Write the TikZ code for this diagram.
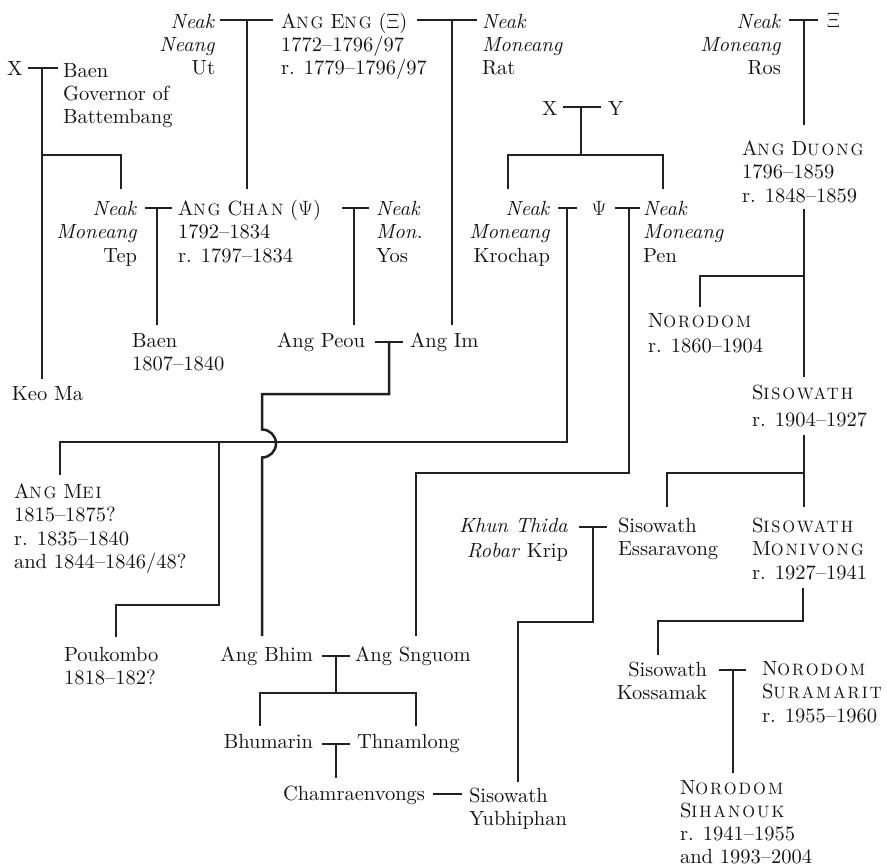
\documentclass[tikz,border=0pt]{standalone}
\usepackage{fontspec}
\setmainfont{lmroman10-regular.otf}[ItalicFont=lmroman10-italic.otf, BoldFont=lmroman10-bold.otf]
\newfontfamily\scletters{lmroman10-regular.otf}[LetterSpace=12]
\newcommand\fsc[2]{#1{\scletters\fontsize{16.5}{16.5}\selectfont #2}}
\usepackage{tikz}
\newcommand\tstrut{\rule{0pt}{16pt}}
\tikzset{
  txt/.style={inner sep=0pt, outer sep=0pt, text=black!92, font=\fontsize{20.5}{23.5}\selectfont},
  L/.style={txt, anchor=north west, align=left},
  R/.style={txt, anchor=north east, align=right},
  ln/.style={line width=2.5pt, line join=miter, line cap=butt, draw=black!87}
}
\begin{document}
\begin{tikzpicture}[x=1pt,y=-1pt]
\useasboundingbox (0,0) rectangle (887,867);
% ---------- people ----------
\node[R] (ut) at (215,12) {\tstrut\textit{Neak}\\\textit{Neang}\\Ut};
\node[L] (eng) at (281,12) {\tstrut\fsc{A}{NG} \fsc{E}{NG} ($\Xi$)\\1772--1796/97\\r. 1779--1796/97};
\node[L] (rat) at (482,12) {\tstrut\textit{Neak}\\\textit{Moneang}\\Rat};
\node[L] (xa) at (7,60) {\tstrut X};
\node[L] (baena) at (63,61) {\tstrut Baen\\Governor of\\Battembang};
\node[R] (tep) at (137,199) {\tstrut\textit{Neak}\\\textit{Moneang}\\Tep};
\node[L] (chan) at (178,199) {\tstrut\fsc{A}{NG} \fsc{C}{HAN} ($\Psi$)\\1792--1834\\r. 1797--1834};
\node[L] (yos) at (376,199) {\tstrut\textit{Neak}\\\textit{Mon.}\\Yos};
\node[L] (xb) at (542,99) {\tstrut X};
\node[L] (yb) at (608,99) {\tstrut Y};
\node[R] (krochap) at (550,199) {\tstrut\textit{Neak}\\\textit{Moneang}\\Krochap};
\node[txt, anchor=north] (psi) at (599,199) {\tstrut$\Psi$};
\node[L] (pen) at (643,199) {\tstrut\textit{Neak}\\\textit{Moneang}\\Pen};
\node[R] (ros) at (781,12) {\tstrut\textit{Neak}\\\textit{Moneang}\\Ros};
\node[L] (xi) at (827,12) {\tstrut$\Xi$};
\node[L] (duong) at (742,139) {\tstrut\fsc{A}{NG} \fsc{D}{UONG}\\1796--1859\\r. 1848--1859};
\node[L] (baenb) at (132,331) {\tstrut Baen\\1807--1840};
\node[R] (peou) at (365,331) {\tstrut Ang Peou};
\node[L] (im) at (410,331) {\tstrut Ang Im};
\node[L] (keoma) at (12,384) {\tstrut Keo Ma};
\node[L] (norodom) at (648,311) {\tstrut\fsc{N}{ORODOM}\\[1.5pt]r. 1860--1904};
\node[L] (sisowath) at (752,383) {\tstrut\fsc{S}{ISOWATH}\\[3.5pt]r. 1904--1927};
\node[L] (mei) at (14,482) {\tstrut\fsc{A}{NG} \fsc{M}{EI}\\1815--1875?\\r. 1835--1840\\and 1844--1846/48?};
\node[R] (khun) at (568,516) {\tstrut\textit{Khun Thida}\\[2pt]\textit{Robar} Krip};
\node[L] (essara) at (618,516) {\tstrut Sisowath\\Essaravong};
\node[L] (monivong) at (752,516) {\tstrut\fsc{S}{ISOWATH}\\\fsc{M}{ONIVONG}\\r. 1927--1941};
\node[L] (poukombo) at (64,645) {\tstrut Poukombo\\1818--182?};
\node[R] (bhim) at (313,645) {\tstrut Ang Bhim};
\node[L] (snguom) at (355,645) {\tstrut Ang Snguom};
\node[R] (kossamak) at (707,660) {\tstrut Sisowath\\Kossamak};
\node[L] (suramarit) at (762,659) {\tstrut\fsc{N}{ORODOM}\\\fsc{S}{URAMARIT}\\r. 1955--1960};
\node[R] (bhumarin) at (313,732) {\tstrut Bhumarin};
\node[L] (thnamlong) at (357,732) {\tstrut Thnamlong};
\node[R] (chamra) at (425,784) {\tstrut Chamraenvongs};
\node[L] (yubhi) at (469,786) {\tstrut Sisowath\\Yubhiphan};
\node[L, font=\fontsize{20.5}{23}\selectfont] (sihanouk) at (680,778) {\tstrut\fsc{N}{ORODOM}\\\fsc{S}{IHANOUK}\\r. 1941--1955\\and 1993--2004};
% ---------- junction points ----------
\coordinate (ueL) at (220,20); \coordinate (ueR) at (273,20); \coordinate (ueM) at (247,20); \coordinate (chanT) at (247,189);
\coordinate (erL) at (417,20); \coordinate (erR) at (477,20); \coordinate (erM) at (452,20); \coordinate (imT) at (452,325);
\coordinate (xbL) at (28,68); \coordinate (xbR) at (58,68); \coordinate (xbM) at (42,68); \coordinate (keoT) at (42,379);
\coordinate (xbJ) at (42,155); \coordinate (tepC) at (121,155); \coordinate (tepT) at (121,189);
\coordinate (tcL) at (145,208); \coordinate (tcR) at (172,208); \coordinate (tcM) at (157,208); \coordinate (baenT) at (157,325);
\coordinate (cyL) at (342,208); \coordinate (cyR) at (369,208); \coordinate (cyM) at (354,208); \coordinate (peouT) at (354,325);
\coordinate (xyL) at (563,107); \coordinate (xyR) at (601,107); \coordinate (xyM) at (581,107); \coordinate (xyJ) at (581,155);
\coordinate (kroC) at (508,155); \coordinate (kroT) at (508,189); \coordinate (penC) at (663,155); \coordinate (penT) at (663,189);
\coordinate (kpL) at (558,208); \coordinate (kpR) at (577,208); \coordinate (kpM) at (567,208); \coordinate (kpC) at (567,442);
\coordinate (meiC) at (60,442); \coordinate (meiT) at (60,475);
\coordinate (pkJ) at (219,442); \coordinate (pkC1) at (219,605); \coordinate (pkC2) at (116,605); \coordinate (pkT) at (116,637);
\coordinate (ppL) at (615,208); \coordinate (ppR) at (640,208); \coordinate (ppM) at (629,208);
\coordinate (ppC1) at (629,473); \coordinate (ppC2) at (416,473); \coordinate (sngT) at (416,636);
\coordinate (piL) at (375,342); \coordinate (piR) at (403,342); \coordinate (piM) at (389,342);
\coordinate (piC1) at (389,394); \coordinate (piC2) at (262,394); \coordinate (brT) at (262,429.5); \coordinate (bhimT) at (262,636);
\coordinate (bsL) at (322,656); \coordinate (bsR) at (350,656); \coordinate (bsM) at (336,656); \coordinate (bsJ) at (336,693);
\coordinate (bhuC) at (260,693); \coordinate (bhuT) at (260,726); \coordinate (thnC) at (416,693); \coordinate (thnT) at (416,726);
\coordinate (btL) at (322,744); \coordinate (btR) at (350,744); \coordinate (btM) at (336,744); \coordinate (chaT) at (336,778);
\coordinate (cyuL) at (433,794); \coordinate (cyuR) at (462,794);
\coordinate (keL) at (579,527); \coordinate (keR) at (607,527); \coordinate (keM) at (593,527);
\coordinate (keC1) at (593,622); \coordinate (keC2) at (518,622); \coordinate (yubT) at (518,782);
\coordinate (rxL) at (789,20); \coordinate (rxR) at (818,20); \coordinate (rxM) at (804,20); \coordinate (duoT) at (804,125);
\coordinate (duoB) at (804,209); \coordinate (sisT) at (804,377); \coordinate (duoJ) at (804,276);
\coordinate (norC) at (700,276); \coordinate (norT) at (700,307);
\coordinate (sisB) at (804,435); \coordinate (monT) at (804,507); \coordinate (sisJ) at (804,473);
\coordinate (essC) at (667,473); \coordinate (essT) at (667,507);
\coordinate (monB) at (803,588); \coordinate (monC1) at (803,621); \coordinate (monC2) at (658,621); \coordinate (kosT) at (658,655);
\coordinate (ksL) at (719,670); \coordinate (ksR) at (746,670); \coordinate (ksM) at (733,670); \coordinate (sihT) at (733,773);
% ---------- lines ----------
\draw[ln] (ueL) -- (ueR); \draw[ln] (ueM) -- (chanT);
\draw[ln] (erL) -- (erR); \draw[ln] (erM) -- (imT);
\draw[ln] (xbL) -- (xbR); \draw[ln] (xbM) -- (keoT); \draw[ln] (xbJ) -- (tepC) -- (tepT);
\draw[ln] (tcL) -- (tcR); \draw[ln] (tcM) -- (baenT);
\draw[ln] (cyL) -- (cyR); \draw[ln] (cyM) -- (peouT);
\draw[ln] (xyL) -- (xyR); \draw[ln] (xyM) -- (xyJ);
\draw[ln] (kroT) -- (kroC) -- (penC) -- (penT);
\draw[ln] (kpL) -- (kpR); \draw[ln] (kpM) -- (kpC) -- (meiC) -- (meiT);
\draw[ln] (pkJ) -- (pkC1) -- (pkC2) -- (pkT);
\draw[ln] (ppL) -- (ppR); \draw[ln] (ppM) -- (ppC1) -- (ppC2) -- (sngT);
\draw[ln] (piL) -- (piR);
\draw[ln] (piM) -- (piC1) -- (piC2) -- (brT) arc[start angle=-90, end angle=90, radius=14] -- (bhimT);
\draw[ln] (bsL) -- (bsR); \draw[ln] (bsM) -- (bsJ);
\draw[ln] (bhuT) -- (bhuC) -- (thnC) -- (thnT);
\draw[ln] (btL) -- (btR); \draw[ln] (btM) -- (chaT);
\draw[ln] (cyuL) -- (cyuR);
\draw[ln] (keL) -- (keR); \draw[ln] (keM) -- (keC1) -- (keC2) -- (yubT);
\draw[ln] (rxL) -- (rxR); \draw[ln] (rxM) -- (duoT);
\draw[ln] (duoB) -- (sisT); \draw[ln] (duoJ) -- (norC) -- (norT);
\draw[ln] (sisB) -- (monT); \draw[ln] (sisJ) -- (essC) -- (essT);
\draw[ln] (monB) -- (monC1) -- (monC2) -- (kosT);
\draw[ln] (ksL) -- (ksR); \draw[ln] (ksM) -- (sihT);
\end{tikzpicture}
\end{document}
